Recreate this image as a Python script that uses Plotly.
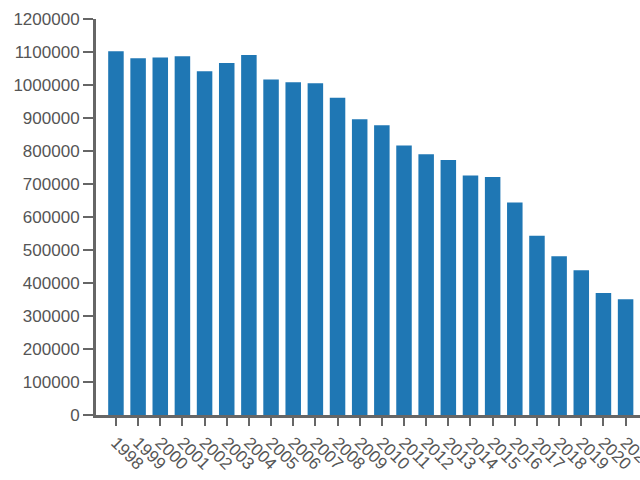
import plotly.graph_objects as go

years = [str(y) for y in range(1998, 2022)]
values = [1102000, 1081000, 1083000, 1087000, 1042000, 1067000, 1091000, 1017000,
          1008000, 1005000, 961000, 896000, 878000, 817000, 790000, 773000,
          726000, 721000, 644000, 543000, 481000, 439000, 370000, 351000]
y_ticks = list(range(0, 1200001, 100000))

fig = go.Figure(go.Bar(x=years, y=values, marker_color="#1f77b4", marker_line_width=0))

axis_color = "#666666"
font_color = "#555555"

fig.update_layout(
    width=640, height=480,
    margin=dict(l=96, r=0, t=19, b=65),
    plot_bgcolor="white", paper_bgcolor="white",
    bargap=0.3,
    showlegend=False,
    font=dict(family="Liberation Sans, Arial, sans-serif", size=17, color=font_color),
)
fig.update_xaxes(
    type="category",
    range=[-0.9, 23.65],
    showline=True, linecolor=axis_color, linewidth=3,
    ticks="outside", ticklen=8, tickwidth=2, tickcolor=axis_color,
    tickangle=45,
    showgrid=False, zeroline=False, automargin=False,
    tickfont=dict(size=17, color=font_color),
)
fig.update_yaxes(
    range=[0, 1200000],
    tickvals=y_ticks,
    ticktext=[str(v) for v in y_ticks],
    showline=True, linecolor=axis_color, linewidth=3,
    ticks="outside", ticklen=10, tickwidth=2, tickcolor=axis_color,
    showgrid=False, zeroline=False, automargin=False,
    tickfont=dict(size=17, color=font_color),
)

fig.write_html(
    "out.html",
    config={"displayModeBar": False},
    post_script="document.body.style.margin='0';document.body.style.overflow='hidden';",
)
